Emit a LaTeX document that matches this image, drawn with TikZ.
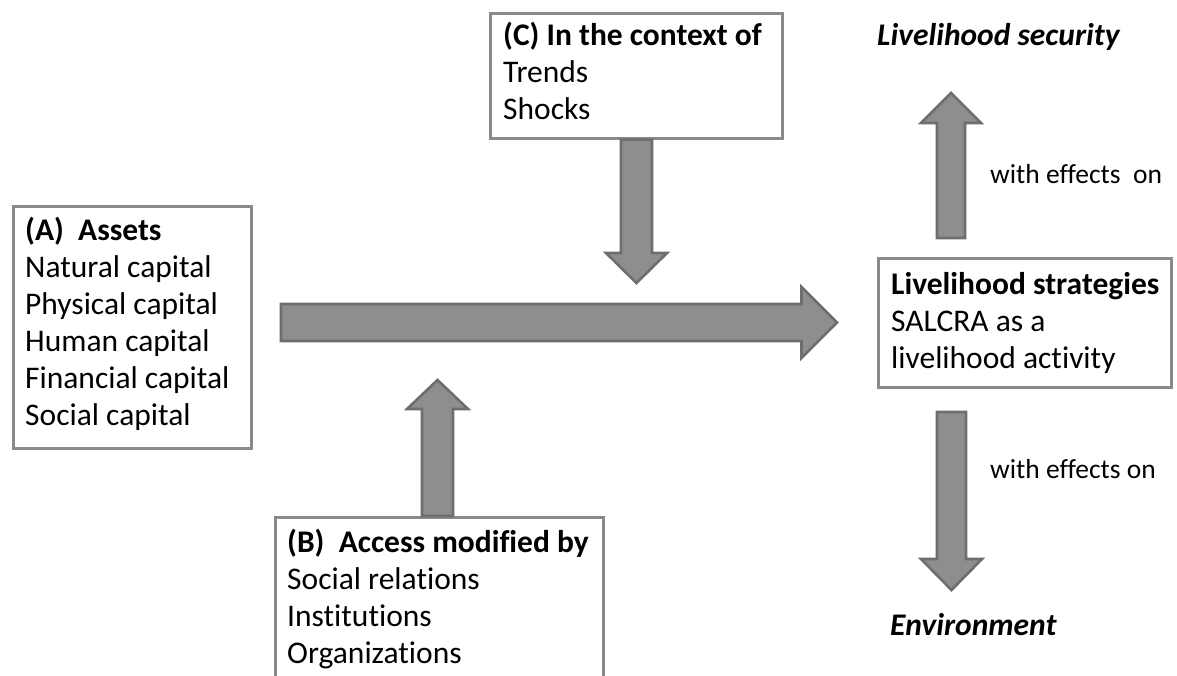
\documentclass[tikz,border=0pt]{standalone}
\usepackage{fontspec}
\setmainfont{Carlito}[Ligatures=NoCommon]
\usetikzlibrary{calc}
\definecolor{arrfill}{RGB}{142,142,142}
\definecolor{arrline}{RGB}{110,110,110}
\definecolor{boxline}{RGB}{138,138,138}
\tikzset{
  box/.style={draw=boxline, line width=2.6pt, fill=white, inner sep=0pt, anchor=north west},
  txt/.style={inner sep=0pt, anchor=north west, align=left, font=\fontsize{31.5}{37}\selectfont},
  note/.style={inner sep=0pt, anchor=base west, font=\fontsize{27.5}{31}\selectfont},
  head/.style={inner sep=0pt, anchor=base west, font=\fontsize{31.5}{37}\selectfont\bfseries\itshape},
  blockarr/.style={fill=arrfill, draw=arrline, line width=2.6pt, line join=miter},
}
\newcommand\blockarrow[5]{%
  \coordinate (#1-#2-b) at ($(#2)!#5!(#1)$);
  \draw[blockarr] ($(#1)!#3!90:(#2)$) -- ($(#1-#2-b)!#3!-90:(#1)$) -- ($(#1-#2-b)!#4!-90:(#1)$)
    -- (#2) -- ($(#1-#2-b)!#4!90:(#1)$) -- ($(#1-#2-b)!#3!90:(#1)$) -- ($(#1)!#3!-90:(#2)$) -- cycle;
}
\begin{document}
\begin{tikzpicture}[x=1pt,y=-1pt]
\fill[white] (0,0) rectangle (1177,675);
\useasboundingbox (0,0) rectangle (1177,675);
\clip (0,0) rectangle (1177,675);

% boxes
\node[box, minimum width=238pt, minimum height=242pt] (A) at (12,205) {};
\node[box, minimum width=292pt, minimum height=125pt] (C) at (489,12) {};
\node[box, minimum width=328pt, minimum height=180pt] (B) at (274,516) {};
\node[box, minimum width=293pt, minimum height=129pt] (L) at (877,257) {};

% box texts
\node[txt] (At) at (25,210) {\rule{0pt}{30pt}\textbf{(A)\ \ Assets}\\Natural capital\\Physical capital\\Human capital\\Financial capital\\Social capital};
\node[txt] (Ct) at (503,15) {\rule{0pt}{30pt}\textbf{(C) In the context of}\\Trends\\Shocks};
\node[txt] (Bt) at (287,522) {\rule{0pt}{30pt}\textbf{(B)\ \ Access modified by}\\Social relations\\Institutions\\Organizations};
\node[txt] (Lt) at (891,264) {\rule{0pt}{30pt}\textbf{Livelihood strategies}\\SALCRA as a\\livelihood activity};

% free labels
\node[head] (sec) at (877,45) {Livelihood security};
\node[head] (env) at (890,635) {Environment};
\node[note] (w1) at (990,183) {with effects\ \ on};
\node[note] (w2) at (990,478) {with effects on};

% arrow end points
\coordinate (m1) at (281,322.5);
\coordinate (m2) at (837,322.5);
\coordinate (c1) at (636.5,0 |- C.south);
\coordinate (c2) at (636.5,283);
\coordinate (b1) at (437.5,0 |- B.north);
\coordinate (b2) at (437.5,380);
\coordinate (u1) at (951,238);
\coordinate (u2) at (951,93);
\coordinate (d1) at (951.5,412);
\coordinate (d2) at (951.5,590);

\blockarrow{m1}{m2}{18.5pt}{35.5pt}{35.5pt}
\blockarrow{c1}{c2}{15.5pt}{30.5pt}{30pt}
\blockarrow{b1}{b2}{15.5pt}{30.5pt}{29pt}
\blockarrow{u1}{u2}{14pt}{30pt}{30pt}
\blockarrow{d1}{d2}{14.5pt}{30.5pt}{31pt}
\end{tikzpicture}
\end{document}
